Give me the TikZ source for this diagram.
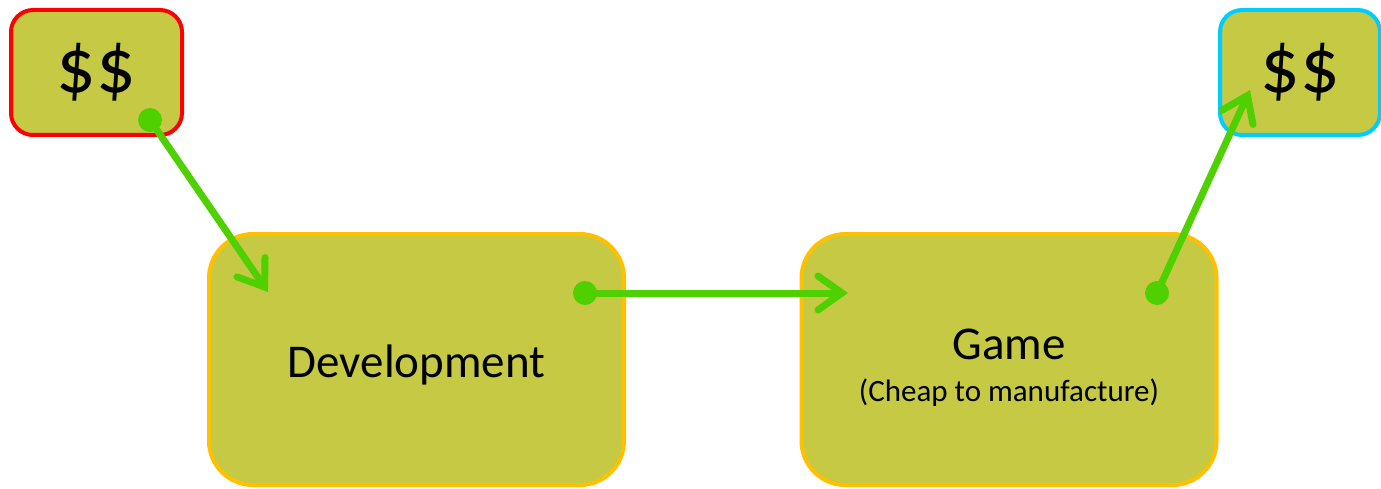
\documentclass[tikz,border=0pt]{standalone}
\usepackage{fontspec}
\setmainfont{Carlito}
\usetikzlibrary{arrows.meta}
\definecolor{boxfill}{HTML}{C5C944}
\definecolor{boxedge}{HTML}{FFC000}
\definecolor{flowgreen}{HTML}{4FD000}
\definecolor{costred}{HTML}{FF0000}
\definecolor{gainblue}{HTML}{00CCFF}

\begin{document}
\begin{tikzpicture}[x=1pt,y=-1pt,
main node/.style={rectangle,draw=boxedge,fill=boxfill,line width=4pt,inner sep=0pt},
money node/.style={main node,rounded corners=22pt,minimum width=160pt,minimum height=125pt,font=\fontsize{78}{80}\selectfont},
stage node/.style={main node,rounded corners=44pt,minimum width=415pt,minimum height=251pt,align=center},
flow/.style={draw=flowgreen,line width=7pt,line cap=round,-{Straight Barb[length=24pt,width=34pt,line cap=round]}},
dot/.style={fill=flowgreen}]

\useasboundingbox (0,0) rectangle (1381,489);

\node[money node,draw=costred,minimum width=171pt] (n0) at (96.5,72.5) {\$\$};
\node[money node,draw=gainblue] (n3) at (1300,72.5) {\$\$};
\node[stage node,font=\fontsize{47}{50}\selectfont,text height=45pt,text depth=10pt] (n1) at (416.5,359.5) {Development};
\node[stage node,font=\fontsize{31}{42}\selectfont] (n2) at (1009,359.5) {{\fontsize{47}{42}\selectfont\rule{0pt}{47pt}Game}\\(Cheap to manufacture)};

\coordinate (d0) at (150,120);
\coordinate (t0) at (268,292);
\coordinate (d1) at (585,293);
\coordinate (t1) at (848,293);
\coordinate (d2) at (1157,293);
\coordinate (t2) at (1250,90);

\fill[dot] (d0) circle (12pt);
\fill[dot] (d1) circle (12pt);
\fill[dot] (d2) circle (12pt);
\path (d0) edge[flow] (t0)
(d1) edge[flow] (t1)
(d2) edge[flow] (t2);

\end{tikzpicture}
\end{document}
